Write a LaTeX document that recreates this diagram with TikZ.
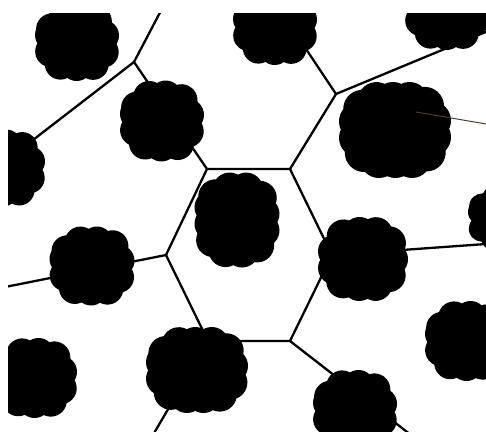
\documentclass[tikz,border=0pt]{standalone}
\usetikzlibrary{decorations.markings}
\tikzset{
  pics/blob/.style 2 args={code={
    \pgfmathsetmacro\br{0.2*min(#1,#2)}
    \pgfmathsetmacro\ba{#1/2-\br}
    \pgfmathsetmacro\bb{#2/2-\br}
    \pgfmathsetmacro\rc{0.7*min(\ba,\bb)}
    \coordinate (-c) at (0,0);
    \fill[black, rounded corners=\rc pt] (-\ba,-\bb) rectangle (\ba,\bb);
    \path[rounded corners=\rc pt, decorate, decoration={markings,
      mark=between positions 0 and 0.97 step 16.5pt with {\fill[black] (0,0) circle[radius=\br pt];}}]
      (-\ba,-\bb) rectangle (\ba,\bb);
  }},
  edge/.style={line width=2.3pt, black},
  thin edge/.style={line width=1pt, color={rgb,1:red,0.3;green,0.24;blue,0.2}}
}
\begin{document}
\begin{tikzpicture}[x=1pt,y=-1pt]
\useasboundingbox (0,0) rectangle (486,431);
\clip (8,13) rectangle (486,431);
% vertices
\coordinate (A) at (207,169);
\coordinate (B) at (290,169);
\coordinate (C) at (332,255);
\coordinate (D) at (290,341);
\coordinate (E) at (208,341);
\coordinate (F) at (166,255);
\coordinate (G) at (134,62);
\coordinate (H) at (336,94);
\coordinate (g1) at (165,3);
\coordinate (g2) at (20,150);
\coordinate (h1) at (300,40);
\coordinate (h2) at (500,26);
\coordinate (f1) at (0,288);
\coordinate (c1) at (500,243);
\coordinate (d1) at (420,442);
\coordinate (e1) at (150,440);
\coordinate (t1) at (416,112);
\coordinate (t2) at (492,125);
% edges
\draw[edge, line join=miter] (A) -- (B) -- (C) -- (D) -- (E) -- (F) -- cycle;
\draw[edge] (A) -- (G) -- (g1);
\draw[edge] (G) -- (g2);
\draw[edge] (B) -- (H) -- (h1);
\draw[edge] (H) -- (h2);
\draw[edge] (F) -- (f1);
\draw[edge] (C) -- (c1);
\draw[edge] (D) -- (d1);
\draw[edge] (E) -- (e1);
% clouds
\pic (k1) at (77,42) {blob={84}{78}};
\pic (k2) at (162,121) {blob={84}{81}};
\pic (k3) at (3,168) {blob={84}{77}};
\pic (k4) at (275,26) {blob={84}{78}};
\pic (k5) at (447,11) {blob={84}{78}};
\pic (k6) at (395,130) {blob={112}{96}};
\pic (k7) at (237,220) {blob={85}{95}};
\pic (k8) at (92,266) {blob={85}{79}};
\pic (k9) at (363,259) {blob={90}{84}};
\pic (k10) at (510,218) {blob={84}{66}};
\pic (k11) at (35,378) {blob={84}{80}};
\pic (k12) at (197,370) {blob={102}{86}};
\pic (k13) at (467,341) {blob={84}{80}};
\pic (k14) at (355,410) {blob={84}{80}};
% thin line
\draw[thin edge] (t1) -- (t2);
\end{tikzpicture}
\end{document}
